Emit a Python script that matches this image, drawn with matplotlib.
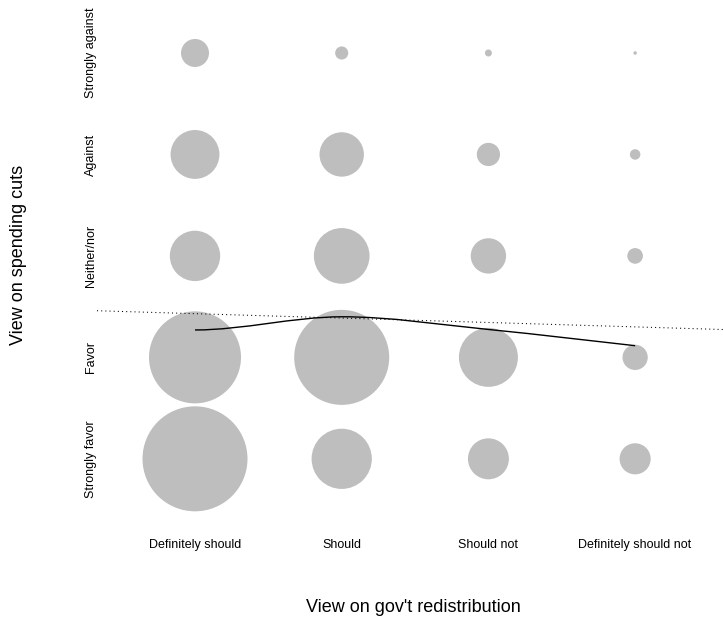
import numpy as np
import matplotlib
matplotlib.use("Agg")
import matplotlib.pyplot as plt
from matplotlib.path import Path
from matplotlib.patches import PathPatch

plt.rcParams['font.family'] = ['Liberation Sans', 'DejaVu Sans']

# categories
redist = ["Definitely should", "Should", "Should not", "Definitely should not"]
cuts = ["Strongly favor", "Favor", "Neither/nor", "Against", "Strongly against"]

# respondents per cell (columns follow redist)
strongly_favor = [900, 296, 137, 79]
favor = [691, 737, 284, 52]
neither_nor = [207, 253, 102, 20]
against = [195, 161, 44, 9]
strongly_against = [64, 14, 4, 1]

# smoothed mean view on cuts within each redist column
cond_mean = [2.27, 2.40, 2.275, 2.115]

# linear fit: cuts ~ redist
fit_intercept = 2.474
fit_slope = -0.0434

counts = np.array([strongly_favor, favor, neither_nor, against, strongly_against])
xs = np.arange(1, len(redist) + 1)
ys = np.arange(1, len(cuts) + 1)
gx, gy = np.meshgrid(xs, ys)

W, H = 723, 621
fig = plt.figure(figsize=(W / 100, H / 100), dpi=100)
ax = fig.add_axes([97 / W, 1 - 520 / H, 626 / W, 515 / H])

# bubble area proportional to count, diameter 3.5px per sqrt(count)
size_per_count = (3.5 * 72 / 100) ** 2
ax.scatter(gx.ravel(), gy.ravel(), s=counts.ravel() * size_per_count,
           color="#bebebe", linewidths=0, zorder=1)

# smooth curve through the column means (catmull-rom as bezier)
pts = np.column_stack([xs, cond_mean]).astype(float)
verts = [pts[0]]
codes = [Path.MOVETO]
n = len(pts)
for i in range(n - 1):
    p0 = pts[max(i - 1, 0)]
    p1 = pts[i]
    p2 = pts[i + 1]
    p3 = pts[min(i + 2, n - 1)]
    if i == 0:
        # start level, like the end of a spline
        c1 = p1 + np.array([(p2[0] - p1[0]) / 3, 0.0])
    else:
        c1 = p1 + (p2 - p0) / 6
    c2 = p2 - (p3 - p1) / 6
    verts += [c1, c2, p2]
    codes += [Path.CURVE4] * 3
ax.add_patch(PathPatch(Path(verts, codes), facecolor="none",
                       edgecolor="black", lw=1.0, zorder=3))

# regression line across the whole panel
ax.axline((0, fit_intercept), slope=fit_slope, color="black", lw=0.75,
          linestyle=(0, (1, 3)), zorder=2)

ax.set_xlim(0.332, 4.599)
ax.set_ylim(0.397, 5.473)
for s in ax.spines.values():
    s.set_visible(False)

ax.set_xticks(xs)
ax.set_xticklabels(redist, fontsize=9)
ax.set_yticks(ys)
ax.set_yticklabels(cuts, fontsize=9, rotation=90, va="center", ha="center")
ax.tick_params(axis="x", length=0, pad=13.5)
ax.tick_params(axis="y", length=0, pad=4.5)

fig.text(413 / W, 1 - 607 / H, "View on gov't redistribution", fontsize=13,
         ha="center", va="center")
fig.text(19 / W, 1 - 255 / H, "View on spending cuts", fontsize=13,
         rotation=90, ha="center", va="center")

fig.savefig("out.png", dpi=100)
